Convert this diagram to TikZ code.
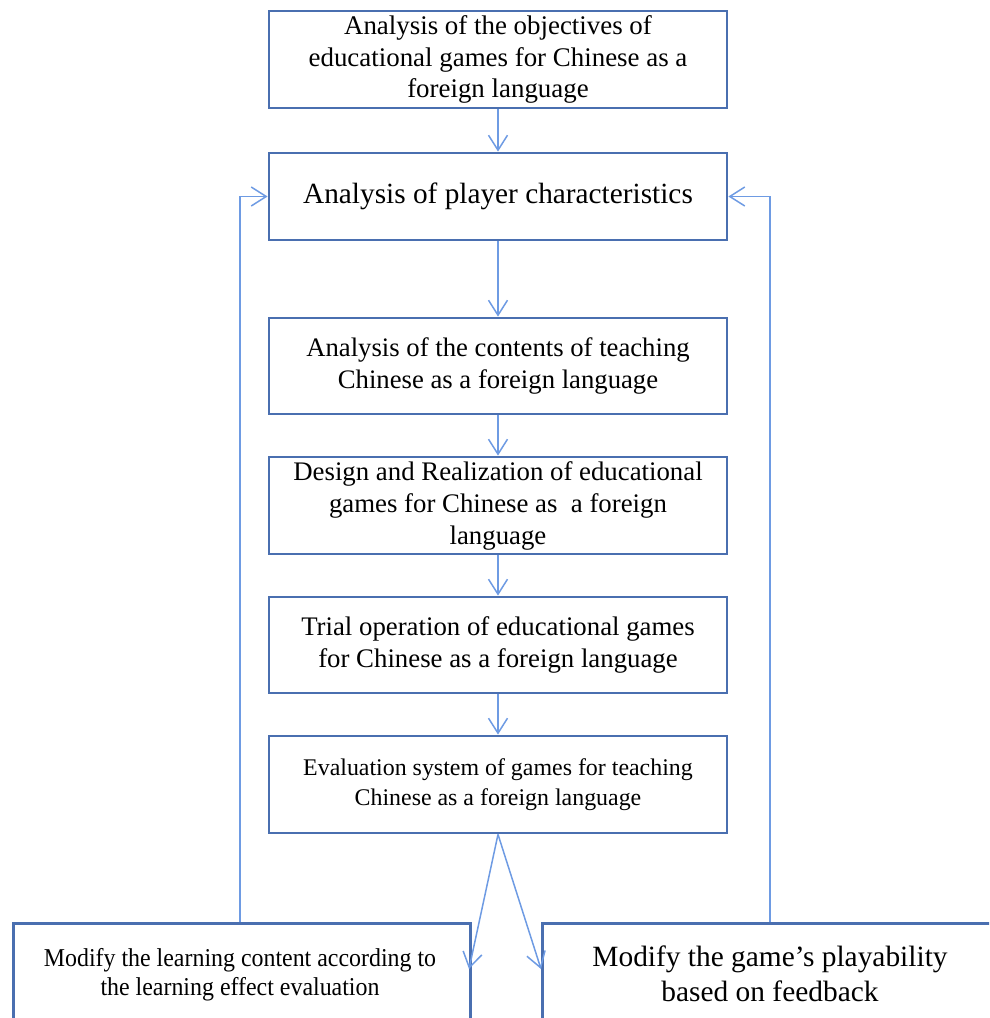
\documentclass[tikz,border=0pt]{standalone}
\usepackage{fontspec}
\setmainfont{Liberation Serif}
\newfontfamily\condfont[FakeStretch=0.93]{Liberation Serif}
\usetikzlibrary{arrows.meta}
\definecolor{boxblue}{HTML}{4A6FB0}
\definecolor{arrblue}{HTML}{6E9BE3}
\tikzset{
  x=1pt, y=-1pt,
  stepbox/.style={draw=boxblue, line width=2.8pt, minimum width=458pt, inner sep=0pt, align=center},
  conn/.style={draw=arrblue, line width=1.5pt, -{Straight Barb[length=15pt,width=19pt,line width=1.5pt]}},
}
\begin{document}
\begin{tikzpicture}
\useasboundingbox (0,0) rectangle (989,1018);
\clip (0,0) rectangle (989,1018);
\node[stepbox, minimum height=97pt, font=\fontsize{26.9}{31.5}\selectfont] (b1) at (498,59.5)
  {Analysis of the objectives of\\educational games for Chinese as a\\foreign language};
\node[stepbox, minimum height=87pt, font=\fontsize{29.3}{30}\selectfont] (b2) at (498,196.5)
  {Analysis of player characteristics};
\node[stepbox, minimum height=96pt, font=\fontsize{26.7}{32}\selectfont] (b3) at (498,366)
  {Analysis of the contents of teaching\\Chinese as a foreign language};
\node[stepbox, minimum height=97pt, font=\fontsize{26.8}{32}\selectfont] (b4) at (498,505.5)
  {Design and Realization of educational\\games for Chinese as\ \ a foreign\\language};
\node[stepbox, minimum height=96pt, font=\fontsize{26.8}{32}\selectfont] (b5) at (498,645)
  {Trial operation of educational games\\for Chinese as a foreign language};
\node[stepbox, minimum height=97pt, font=\fontsize{23.9}{30}\selectfont] (b6) at (498,784.5)
  {Evaluation system of games for teaching\\Chinese as a foreign language};
\node[stepbox, minimum width=457pt, minimum height=160pt, anchor=north west] (m1) at (12,922) {};
\node[font=\condfont\fontsize{25.7}{29}\selectfont, align=center] (m1t) at (240,975)
  {Modify the learning content according to\\the learning effect evaluation};
\node[stepbox, minimum width=500pt, minimum height=160pt, anchor=north west] (m2) at (541,922) {};
\node[font=\fontsize{29.4}{35}\selectfont, align=center] (m2t) at (770,974)
  {Modify the game’s playability\\based on feedback};
\draw[conn] (b1) -- (b2);
\draw[conn] (b2) -- (b3);
\draw[conn] (b3) -- (b4);
\draw[conn] (b4) -- (b5);
\draw[conn] (b5) -- (b6);
\coordinate (apex) at (b6.south);
\coordinate (tipL) at (469,969);
\coordinate (tipR) at (541,969);
\draw[conn] (apex) -- (tipL);
\draw[conn] (apex) -- (tipR);
\coordinate (lb) at (240,922);
\coordinate (rb) at (770,922);
\draw[conn] (lb) |- (b2.west);
\draw[conn] (rb) |- (b2.east);
\end{tikzpicture}
\end{document}
